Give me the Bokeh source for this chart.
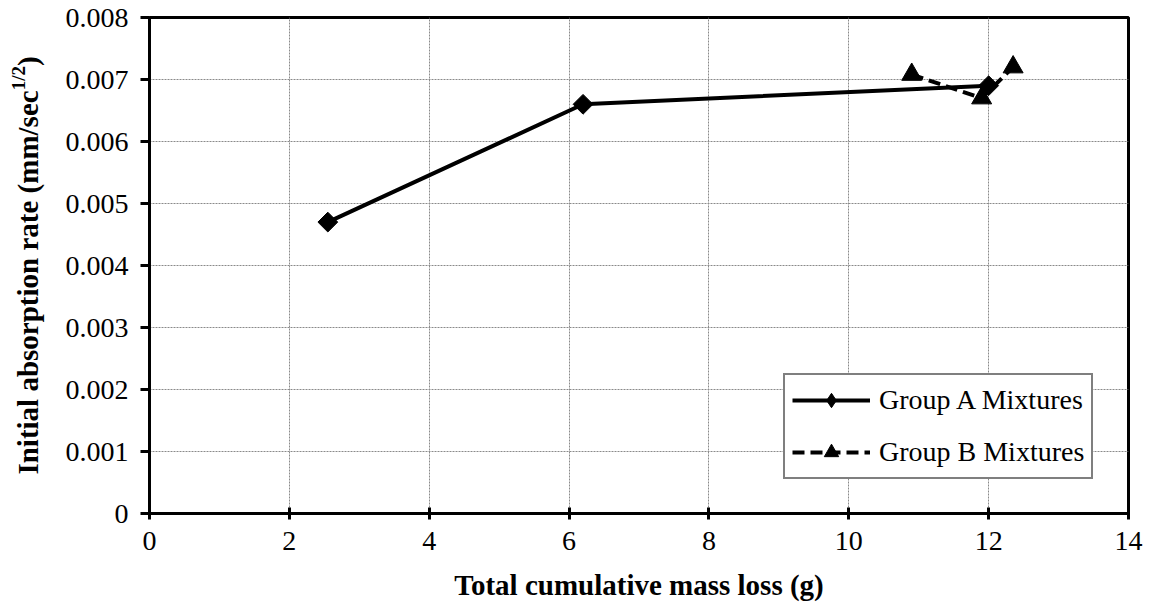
import numpy as np
from bokeh.plotting import figure
from bokeh.layouts import row
from bokeh.models import FixedTicker, Legend, LegendItem, Range1d
from bokeh.core.properties import value
from bokeh.embed import file_html
from bokeh.resources import INLINE

# ---- data ----
x_ticks = [0, 2, 4, 6, 8, 10, 12, 14]
y_ticks = [0.0, 0.001, 0.002, 0.003, 0.004, 0.005, 0.006, 0.007, 0.008]
y_tick_labels = ["0", "0.001", "0.002", "0.003", "0.004", "0.005", "0.006", "0.007", "0.008"]

group_a_mass_loss = [2.55, 6.2, 12.0]
group_a_rate = [0.0047, 0.0066, 0.0069]
group_b_mass_loss = [10.9, 11.9, 12.35]
group_b_rate = [0.00708, 0.0067, 0.0072]

x_title = "Total cumulative mass loss (g)"
y_title_main = "Initial absorption rate (mm/sec"
y_title_sup = "1/2"
y_title_end = ")"
legend_labels = ["Group A Mixtures", "Group B Mixtures"]

FONT = "Liberation Serif"

TOTAL_W, TOTAL_H = 1152, 607
LEFT_W = 50
FW, FH = 979, 496
BORDER_TOP, BORDER_BOTTOM = 17, 94
BORDER_LEFT = 149 - LEFT_W
BORDER_RIGHT = TOTAL_W - LEFT_W - BORDER_LEFT - FW

p = figure(frame_width=FW, frame_height=FH,
           x_range=Range1d(0, 14), y_range=Range1d(0, 0.008),
           output_backend="svg", toolbar_location=None,
           min_border_left=BORDER_LEFT, min_border_right=BORDER_RIGHT,
           min_border_top=BORDER_TOP, min_border_bottom=BORDER_BOTTOM)

p.background_fill_color = "white"
p.border_fill_color = "white"
p.outline_line_color = "black"
p.outline_line_width = 3

# axes
p.xaxis.ticker = FixedTicker(ticks=x_ticks)
p.yaxis.ticker = FixedTicker(ticks=y_ticks)
p.yaxis.major_label_overrides = {t: l for t, l in zip(y_ticks, y_tick_labels)}
p.xaxis.major_label_overrides = {t: str(t) for t in x_ticks}
for ax in (p.xaxis[0], p.yaxis[0]):
    ax.axis_line_color = "black"
    ax.axis_line_width = 3
    ax.major_tick_line_color = "black"
    ax.major_tick_line_width = 3
    ax.minor_tick_line_color = None
    ax.major_label_text_font = FONT
    ax.major_label_text_font_size = "28px"
    ax.major_label_text_color = "black"
p.xaxis.major_tick_in = 6
p.xaxis.major_tick_out = 6
p.xaxis.major_label_standoff = 12
p.yaxis.major_tick_in = 0
p.yaxis.major_tick_out = 9
p.yaxis.major_label_standoff = 12

p.xaxis.axis_label = x_title
p.xaxis.axis_label_text_font = FONT
p.xaxis.axis_label_text_font_style = "bold"
p.xaxis.axis_label_text_font_size = "29px"
p.xaxis.axis_label_text_color = "black"
p.xaxis.axis_label_standoff = 16

# grid
for g in (p.xgrid[0], p.ygrid[0]):
    g.grid_line_color = "#8a8a8a"
    g.grid_line_width = 1
    g.grid_line_dash = "2 1"

# series
la = p.line(group_a_mass_loss, group_a_rate, line_color="black", line_width=4)
sa = p.scatter(group_a_mass_loss, group_a_rate, marker="square", angle=np.pi / 4,
               size=14, fill_color="black", line_color="black")
lb = p.line(group_b_mass_loss, group_b_rate, line_color="black", line_width=4,
            line_dash="12 6")
sb = p.scatter(group_b_mass_loss, group_b_rate, marker="triangle", size=20,
               fill_color="black", line_color="black")
# legend-only diamond glyph (no data drawn)
sa_leg = p.scatter([float("nan")], [float("nan")], marker="diamond",
                   fill_color="black", line_color="black")

legend = Legend(items=[LegendItem(label=legend_labels[0], renderers=[la, sa_leg]),
                       LegendItem(label=legend_labels[1], renderers=[lb, sb])],
                location=(634, 34))
legend.label_text_font = FONT
legend.label_text_font_size = "28px"
legend.label_text_color = "black"
legend.glyph_width = 78
legend.glyph_height = 36
legend.label_standoff = 9
legend.spacing = 16
legend.padding = 7
legend.margin = 0
legend.border_line_color = "black"
legend.border_line_width = 2
legend.background_fill_alpha = 1
p.add_layout(legend)

# ---- y axis title as a narrow text panel (superscript needs separate pieces) ----
t = figure(frame_width=LEFT_W, frame_height=FH, x_range=Range1d(0, LEFT_W),
           y_range=Range1d(0, FH), x_axis_type=None, y_axis_type=None,
           output_backend="svg", toolbar_location=None,
           min_border_left=0, min_border_right=0,
           min_border_top=BORDER_TOP, min_border_bottom=BORDER_BOTTOM)
t.grid.visible = False
t.outline_line_color = None
t.background_fill_color = "white"
t.border_fill_color = "white"

fs = 29
sup_fs = 19
main_len = 13.249 * fs
sup_len = 1.278 * sup_fs
end_len = 0.333 * fs
total = main_len + sup_len + end_len
center_y = FH / 2
start_y = center_y - total / 2
mid_x = 27

common = dict(angle=np.pi / 2, text_align="center", text_baseline="middle",
              text_font=value(FONT), text_font_style="bold", text_color="black")
t.text(x=[mid_x], y=[start_y + main_len / 2], text=[y_title_main],
       text_font_size=f"{fs}px", **common)
t.text(x=[mid_x - 9], y=[start_y + main_len + sup_len / 2], text=[y_title_sup],
       text_font_size=f"{sup_fs}px", **common)
t.text(x=[mid_x], y=[start_y + main_len + sup_len + end_len / 2], text=[y_title_end],
       text_font_size=f"{fs}px", **common)

layout = row(t, p, spacing=0)
open("out.html", "w").write(file_html(layout, INLINE))
